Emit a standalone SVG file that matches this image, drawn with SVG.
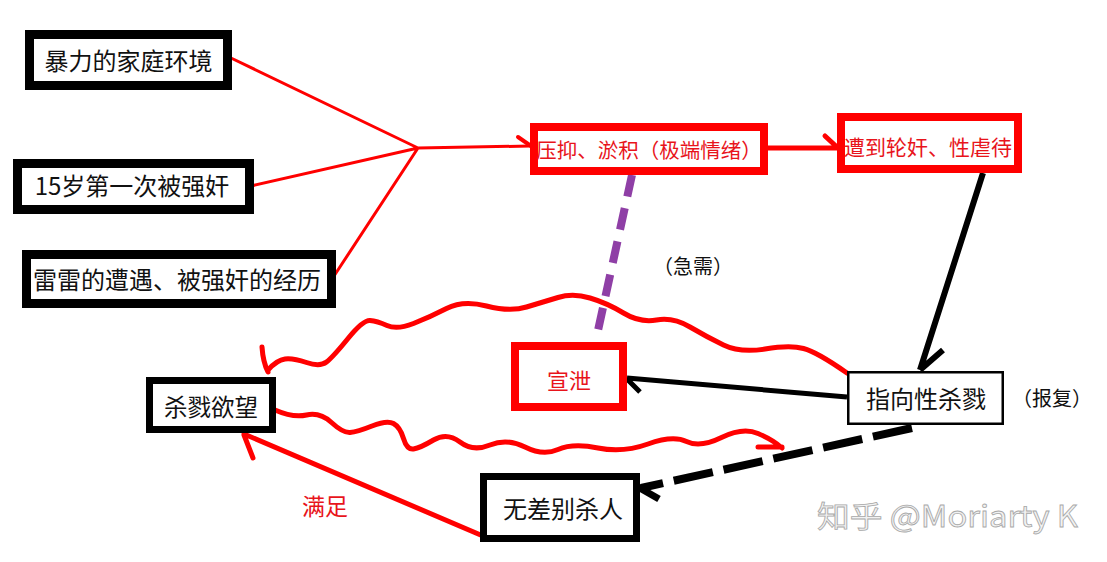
<svg xmlns="http://www.w3.org/2000/svg" width="1107" height="562" viewBox="0 0 1107 562">
<style>
text{font-family:"Noto Sans CJK SC","Noto Sans",sans-serif;dominant-baseline:central;text-anchor:middle}
.b{fill:#fff;stroke:#000}
.r{fill:#fff;stroke:#f00;stroke-width:8}
.tk{fill:#111;font-size:24px}
.tr{fill:#e8141b;font-size:21px}
.lr{fill:none;stroke:#f00;stroke-linecap:round}
.lk{fill:none;stroke:#000;stroke-linecap:butt}
</style>
<rect width="1107" height="562" fill="#fff"/>
<g id="connectors">
<path class="lr" stroke-width="3" d="M231 58 L418 148 M251 186 L418 148 M334 276 L418 148 M418 148 L530 146"/>
<path class="lr" stroke-width="4" d="M518 137 L531 146"/>
<path class="lr" stroke-width="5" d="M768 148 L838 148 M825 136 L838 148"/>
<path d="M632 175 L597 335" fill="none" stroke="#8f3fa6" stroke-width="8" stroke-dasharray="22 12"/>
<path class="lk" stroke-width="6" d="M983 173 L920 370 M943 350 L920 370"/>
<path class="lk" stroke-width="5" d="M847 397 L627 378 M640 392 L627 379"/>
<path class="lk" stroke-width="8" stroke-dasharray="40 11" d="M912 428 L641 488"/>
<path class="lk" stroke-width="7" d="M659 499 L638 487"/>
<path class="lr" stroke-width="5" d="M483 536 L244 434 M253 458 L244 435"/>
<path class="lr" stroke-width="5" d="M262 347 Q263 362 268 372"/>
<path class="lr" stroke-width="5" d="M268 370 Q277 360 285 359 Q293 358 306.5 362.5 Q320 367 326.5 362 Q333 357 348 338.5 Q363 320 370 320.5 Q377 321 387 325.5 Q397 330 413.5 323.5 Q430 317 446.5 308.5 Q463 300 486.5 306 Q510 312 526.5 307 Q543 302 558 297.5 Q573 293 590 298 Q607 303 623.5 313 Q640 323 656.5 320 Q673 317 690 327 Q707 337 723.5 345 Q740 353 765 349 Q790 345 803.5 348.5 Q817 352 847 373"/>
<path class="lr" stroke-width="5" d="M275 410 Q293 418 306.5 415 Q320 412 331.5 422.5 Q343 433 350 432.5 Q357 432 372 426 Q387 420 393.5 423.5 Q400 427 403.5 438.5 Q407 450 413.5 449 Q420 448 433.5 440 Q447 432 460 442 Q473 452 490 445 Q507 438 525 447 Q543 456 558 449.5 Q573 443 598 448 Q623 453 648 444 Q673 435 686.5 441.5 Q700 448 721.5 437.5 Q743 427 758 433.5 Q773 440 782 448 M758 447 L782 447"/>
</g>
<g id="n1"><rect class="b" stroke-width="9" x="29.5" y="34.5" width="198" height="51"/><text class="tk" x="128.5" y="59">暴力的家庭环境</text></g>
<g id="n2"><rect class="b" stroke-width="9" x="17.5" y="163.5" width="232" height="46"/><text class="tk" x="132" y="184">15岁第一次被强奸</text></g>
<g id="n3"><rect class="b" stroke-width="9" x="26.5" y="254.5" width="305" height="49"/><text class="tk" x="177" y="278">雷雷的遭遇、被强奸的经历</text></g>
<g id="n4"><rect class="r" x="534" y="127" width="230" height="44"/><text class="tr" style="font-size:20.5px" x="649" y="149">压抑、淤积（极端情绪）</text></g>
<g id="n5"><rect class="r" x="841" y="117" width="177" height="52"/><text class="tr" x="928" y="146">遭到轮奸、性虐待</text></g>
<g id="n6"><rect class="r" x="515" y="346" width="108" height="61"/><text class="tr" style="font-size:22px" x="569" y="379">宣泄</text></g>
<g id="n7"><rect class="b" stroke-width="7" x="149.5" y="380.5" width="123" height="49"/><text class="tk" style="font-size:23.5px" x="211" y="406">杀戮欲望</text></g>
<g id="n8"><rect class="b" stroke-width="2.5" x="848.25" y="372.25" width="154.5" height="51.5"/><text class="tk" x="926" y="397">指向性杀戮</text></g>
<g id="n9"><rect class="b" stroke-width="7" x="483.5" y="476.5" width="153" height="62"/><text class="tk" x="563" y="507">无差别杀人</text></g>
<g id="labels">
<text class="tk" style="font-size:20px" x="693" y="265">（急需）</text>
<text class="tk" style="font-size:20px" x="1052" y="397">（报复）</text>
<text class="tr" style="font-size:23px" x="325" y="505">满足</text>
<text x="817" y="514" style="text-anchor:start;font-size:30px" fill="#f2f2f2" stroke="#a8a8a8" stroke-width="0.8" textLength="261" lengthAdjust="spacingAndGlyphs">知乎 @Moriarty K</text>
</g>
</svg>
